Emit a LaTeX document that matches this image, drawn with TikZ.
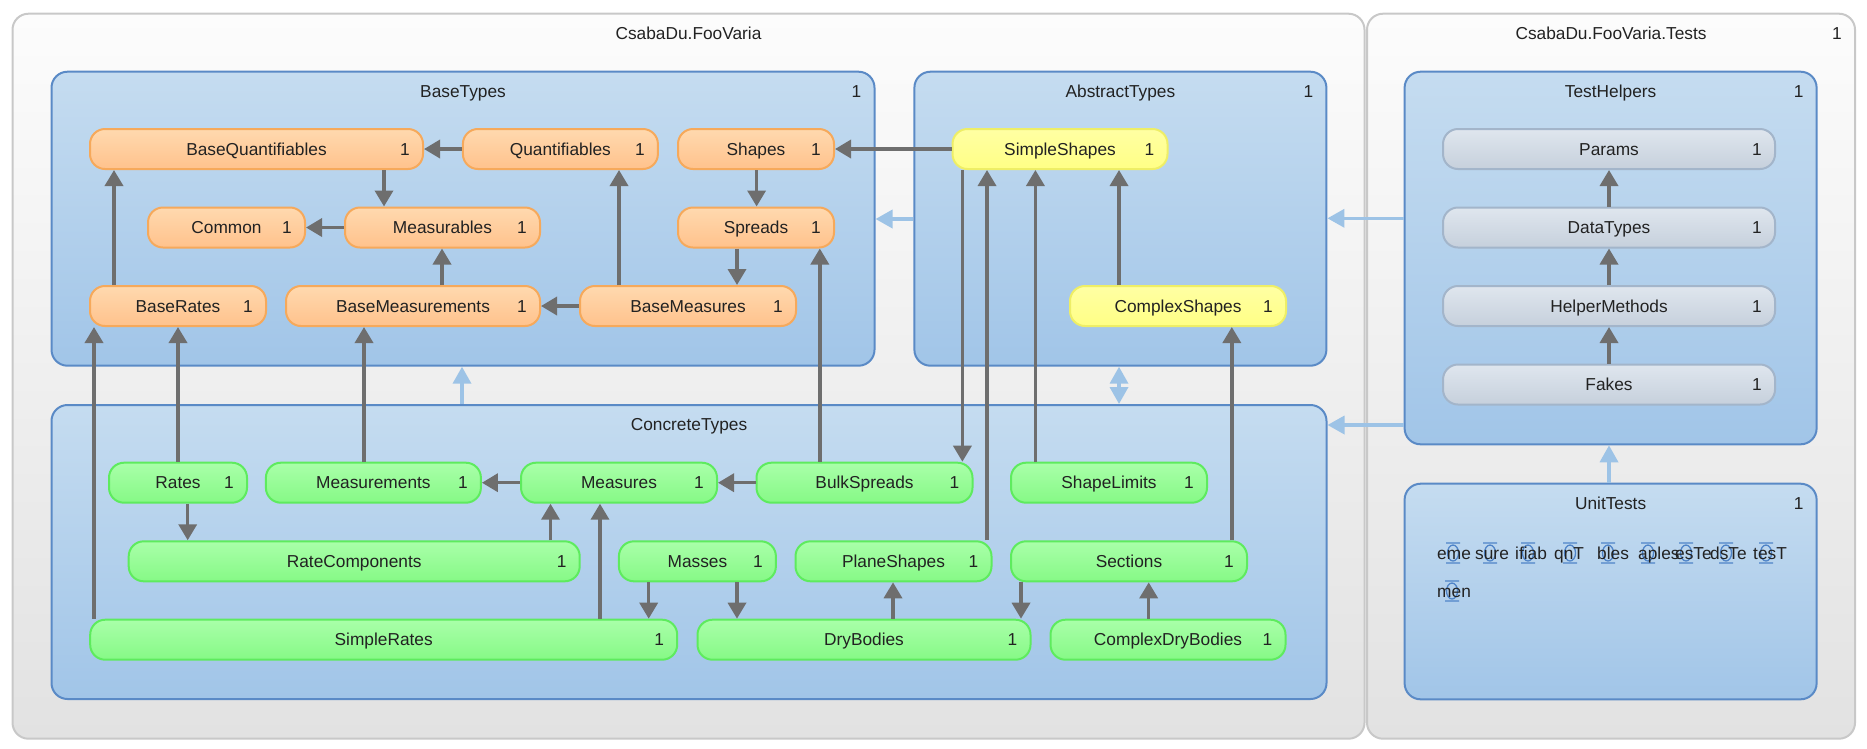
\documentclass[tikz,border=0pt]{standalone}
\usepackage{fontspec}
\setmainfont{Liberation Sans}
\usetikzlibrary{arrows.meta}

\definecolor{outertop}{HTML}{FCFCFC}
\definecolor{outerbot}{HTML}{E2E2E2}
\definecolor{outerline}{HTML}{C8C8C8}
\definecolor{pkgtop}{HTML}{C5DCF0}
\definecolor{pkgbot}{HTML}{A1C5E8}
\definecolor{pkgline}{HTML}{5A8AC6}
\definecolor{orangetop}{HTML}{FFD9AF}
\definecolor{orangebot}{HTML}{FFC28C}
\definecolor{orangeline}{HTML}{F6A95B}
\definecolor{yellowtop}{HTML}{FFFFA3}
\definecolor{yellowbot}{HTML}{FFFF85}
\definecolor{yellowline}{HTML}{EEEE66}
\definecolor{graytop}{HTML}{DFE6EE}
\definecolor{graybot}{HTML}{C6D0DC}
\definecolor{grayline}{HTML}{A3B5CA}
\definecolor{greentop}{HTML}{A9FFA9}
\definecolor{greenbot}{HTML}{86F986}
\definecolor{greenline}{HTML}{5EEB5E}
\definecolor{edgegray}{HTML}{6E6E6E}
\definecolor{pkgarrow}{HTML}{9DC3E6}
\definecolor{utblue}{HTML}{4F84C8}
\definecolor{textdark}{HTML}{222222}

\tikzset{
    every node/.style={font=\fontsize{17.3}{20}\selectfont, text=textdark,
        text height=12.4pt, text depth=0pt},
    solution/.style={rounded corners=16pt, line width=2pt, draw=outerline,
        top color=outertop, bottom color=outerbot, anchor=north west, inner sep=0pt},
    project/.style={rounded corners=16pt, line width=2pt, draw=pkgline,
        top color=pkgtop, bottom color=pkgbot, anchor=north west, inner sep=0pt},
    pkgtitle/.style={anchor=center, yshift=-20.5pt},
    pkgcount/.style={anchor=center, xshift=-19pt, yshift=-20.5pt},
    module/.style={rounded corners=15pt, minimum height=40pt, line width=2pt, inner sep=0pt,
        label={[anchor=center, xshift=-19pt]east:1}},
    basemod/.style={module, draw=orangeline, top color=orangetop, bottom color=orangebot},
    abstractmod/.style={module, draw=yellowline, top color=yellowtop, bottom color=yellowbot},
    helpermod/.style={module, draw=grayline, top color=graytop, bottom color=graybot},
    concretemod/.style={module, draw=greenline, top color=greentop, bottom color=greenbot},
    dep/.style={edgegray, line width=3.5pt, -{Triangle[length=16pt, width=18pt]}},
    projdep/.style={pkgarrow, line width=3.5pt, -{Triangle[length=17pt, width=18pt]}},
}

\begin{document}
\begin{tikzpicture}[x=1pt, y=-1pt]
    \useasboundingbox (0,0) rectangle (1867,748);

    % solutions
    \node[solution, minimum width=1352pt, minimum height=725pt,
        label={[pkgtitle]north:CsabaDu.FooVaria}] (FooVaria) at (11.5,12.7) {};
    \node[solution, minimum width=488pt, minimum height=725pt,
        label={[pkgtitle]north:CsabaDu.FooVaria.Tests},
        label={[pkgcount]north east:1}] (FooVariaTests) at (1366,12.7) {};

    % projects
    \node[project, minimum width=823pt, minimum height=294pt,
        label={[pkgtitle]north:BaseTypes}, label={[pkgcount]north east:1}] (BaseTypes) at (50.5,70.7) {};
    \node[project, minimum width=412pt, minimum height=294pt,
        label={[pkgtitle]north:AbstractTypes}, label={[pkgcount]north east:1}] (AbstractTypes) at (913.4,70.7) {};
    \node[project, minimum width=412pt, minimum height=372.6pt,
        label={[pkgtitle]north:TestHelpers}, label={[pkgcount]north east:1}] (TestHelpers) at (1403.6,70.7) {};
    \node[project, minimum width=1275pt, minimum height=294pt,
        label={[pkgtitle]north:ConcreteTypes}] (ConcreteTypes) at (50.5,404) {};
    \node[project, minimum width=412pt, minimum height=215.6pt,
        label={[pkgtitle]north:UnitTests}, label={[pkgcount]north east:1}] (UnitTests) at (1403.6,482.7) {};

    % BaseTypes
    \node[basemod, minimum width=333pt] (BaseQuantifiables) at (256.5,149) {BaseQuantifiables};
    \node[basemod, minimum width=195pt] (Quantifiables) at (560.4,149) {Quantifiables};
    \node[basemod, minimum width=156pt] (Shapes) at (756,149) {Shapes};
    \node[basemod, minimum width=157pt] (Common) at (226.5,227.5) {Common};
    \node[basemod, minimum width=195pt] (Measurables) at (442.5,227.5) {Measurables};
    \node[basemod, minimum width=156pt] (Spreads) at (756,227.5) {Spreads};
    \node[basemod, minimum width=176pt] (BaseRates) at (178,306) {BaseRates};
    \node[basemod, minimum width=254pt] (BaseMeasurements) at (413,306) {BaseMeasurements};
    \node[basemod, minimum width=216pt] (BaseMeasures) at (688,306) {BaseMeasures};

    % AbstractTypes
    \node[abstractmod, minimum width=215pt] (SimpleShapes) at (1060,149) {SimpleShapes};
    \node[abstractmod, minimum width=216pt] (ComplexShapes) at (1178,306) {ComplexShapes};

    % TestHelpers
    \node[helpermod, minimum width=332pt] (Params) at (1609,149) {Params};
    \node[helpermod, minimum width=332pt] (DataTypes) at (1609,227.5) {DataTypes};
    \node[helpermod, minimum width=332pt] (HelperMethods) at (1609,306) {HelperMethods};
    \node[helpermod, minimum width=332pt] (Fakes) at (1609,384.5) {Fakes};

    % ConcreteTypes
    \node[concretemod, minimum width=138pt] (Rates) at (178,482.7) {Rates};
    \node[concretemod, minimum width=215pt] (Measurements) at (373.4,482.7) {Measurements};
    \node[concretemod, minimum width=196pt] (Measures) at (619,482.7) {Measures};
    \node[concretemod, minimum width=216pt] (BulkSpreads) at (864.5,482.7) {BulkSpreads};
    \node[concretemod, minimum width=196pt] (ShapeLimits) at (1109,482.7) {ShapeLimits};
    \node[concretemod, minimum width=451pt] (RateComponents) at (354.2,561.3) {RateComponents};
    \node[concretemod, minimum width=157pt] (Masses) at (697.4,561.3) {Masses};
    \node[concretemod, minimum width=196pt] (PlaneShapes) at (893.5,561.3) {PlaneShapes};
    \node[concretemod, minimum width=236pt] (Sections) at (1129,561.3) {Sections};
    \node[concretemod, minimum width=587pt] (SimpleRates) at (383.7,639.7) {SimpleRates};
    \node[concretemod, minimum width=333pt] (DryBodies) at (864,639.7) {DryBodies};
    \node[concretemod, minimum width=235pt] (ComplexDryBodies) at (1168,639.7) {ComplexDryBodies};

    % UnitTests content
    \foreach \tx/\ix/\t [count=\i] in {1437/1453/eme, 1475/1490/sure, 1515/1528/ifiab,
            1554/1570/qnT, 1597/1608/bles, 1638/1648/aples, 1675/1686/esTe,
            1710/1726/dsTe, 1753/1766/tesT} {
        \draw[utblue, line width=1.3pt] (\ix-7,543) -- (\ix+7,543) (\ix-7,563) -- (\ix+7,563)
            (\ix,553) ellipse (5.5 and 8);
        \node[anchor=west, inner sep=0pt] (ut\i) at (\tx,553) {\t};
    }
    \draw[utblue, line width=1.3pt] (1445,581) -- (1459,581) (1445,601) -- (1459,601)
        (1452,591) ellipse (5.5 and 8);
    \node[anchor=west, inner sep=0pt] (ut10) at (1437,591) {men};

    % dependencies
    \foreach \a/\b/\x in {BaseMeasurements/Measurables/442, BaseMeasures/Quantifiables/619,
            BaseRates/BaseQuantifiables/114, ComplexShapes/SimpleShapes/1119,
            BulkSpreads/Spreads/819.8, PlaneShapes/SimpleShapes/987,
            ShapeLimits/SimpleShapes/1035.4, Sections/ComplexShapes/1231.8,
            Rates/BaseRates/178, SimpleRates/BaseRates/94,
            Measurements/BaseMeasurements/364, RateComponents/Measures/550.5,
            SimpleRates/Measures/600, DryBodies/PlaneShapes/893,
            ComplexDryBodies/Sections/1148.7, DataTypes/Params/1609,
            HelperMethods/DataTypes/1609, Fakes/HelperMethods/1609}
        \draw[dep] (\a.north -| \x,0) -- (\b.south -| \x,0);
    \foreach \a/\b/\x in {BaseQuantifiables/Measurables/384, Shapes/Spreads/756.6,
            Spreads/BaseMeasures/737, SimpleShapes/BulkSpreads/962.4,
            Rates/RateComponents/187.7, Masses/SimpleRates/648.7,
            Masses/DryBodies/737, Sections/DryBodies/1021}
        \draw[dep] (\a.south -| \x,0) -- (\b.north -| \x,0);
    \foreach \a/\b in {Quantifiables/BaseQuantifiables, Measurables/Common,
            BaseMeasures/BaseMeasurements, SimpleShapes/Shapes,
            Measures/Measurements, BulkSpreads/Measures}
        \draw[dep] (\a.west) -- (\b.east);

    % project dependencies
    \draw[projdep] (AbstractTypes.west |- 0,219) -- (BaseTypes.east |- 0,219);
    \draw[projdep] (ConcreteTypes.north -| 462,0) -- (BaseTypes.south -| 462,0);
    \draw[projdep, {Triangle[length=17pt, width=18pt]}-{Triangle[length=17pt, width=18pt]}]
        (AbstractTypes.south -| 1119,0) -- (ConcreteTypes.north -| 1119,0);
    \draw[projdep] (TestHelpers.west |- 0,218.3) -- (AbstractTypes.east |- 0,218.3);
    \draw[projdep] (TestHelpers.west |- 0,425) -- (ConcreteTypes.east |- 0,425);
    \draw[projdep] (UnitTests.north -| 1609,0) -- (TestHelpers.south -| 1609,0);
\end{tikzpicture}
\end{document}
